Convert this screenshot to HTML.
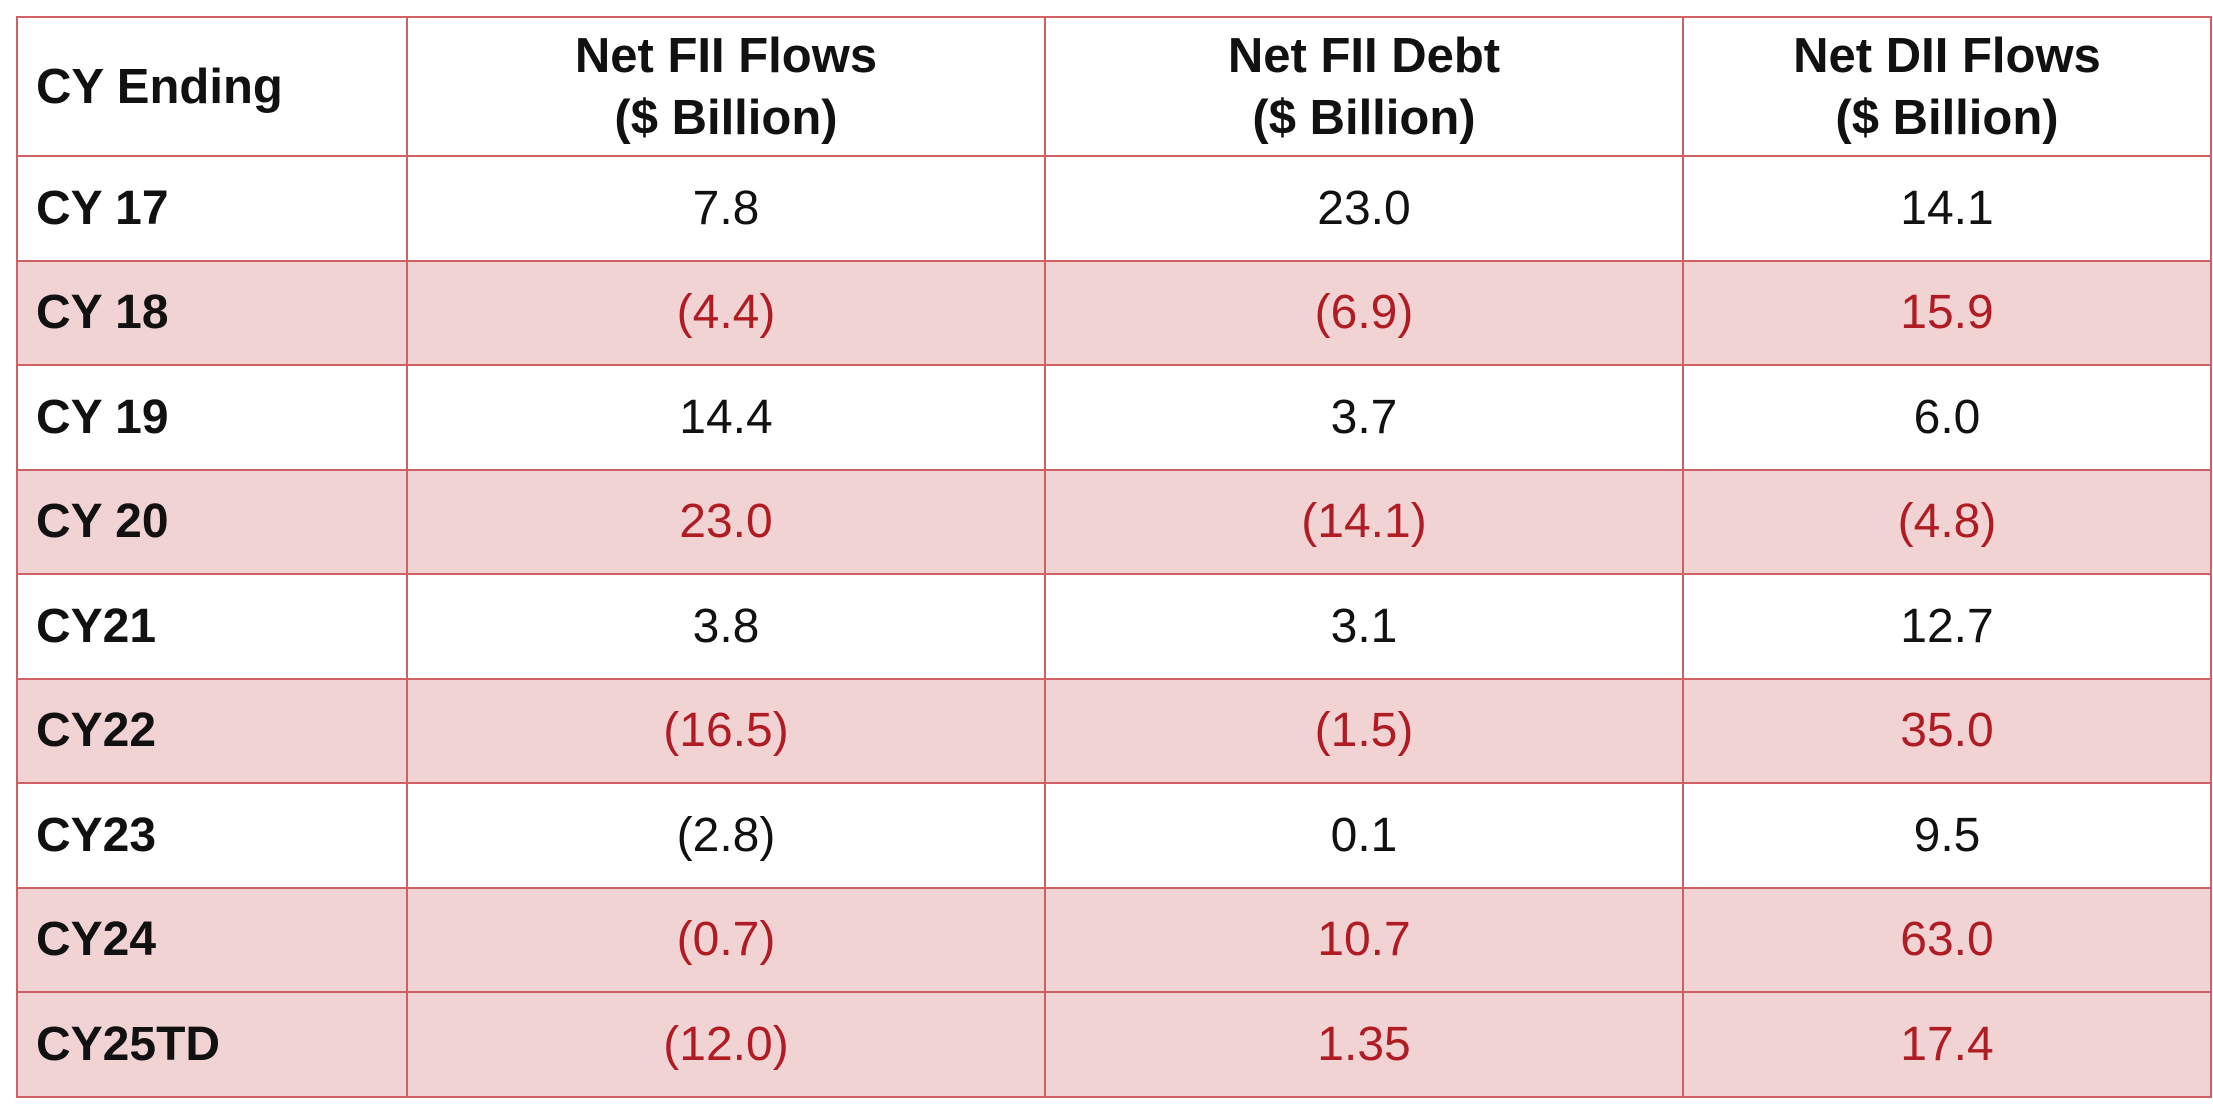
<!DOCTYPE html>
<html><head><meta charset="utf-8"><style>
body{margin:0;width:2213px;height:1110px;background:#fff;overflow:hidden;font-family:"Liberation Sans",Arial,sans-serif}
table{position:absolute;left:16px;top:16px;border-collapse:collapse;table-layout:fixed;width:2194px}
td,th{border:2px solid #cf6064;padding:0;text-align:center;font-size:48px;color:#111}
th{font-weight:bold;height:137px;line-height:62px;font-size:49px}
td{height:102.5px}
td.l,th.l{text-align:left;padding-left:18px;font-weight:bold}
tr.p td{background:#f2d3d4;color:#b01c24}
tr.p td.l{color:#111}
</style></head><body>
<table>
<colgroup><col style="width:390px"><col style="width:638px"><col style="width:638px"><col style="width:528px"></colgroup>
<tr><th class="l">CY Ending</th><th>Net FII Flows<br>($ Billion)</th><th>Net FII Debt<br>($ Billion)</th><th>Net DII Flows<br>($ Billion)</th></tr>
<tr><td class="l">CY 17</td><td>7.8</td><td>23.0</td><td>14.1</td></tr>
<tr class="p"><td class="l">CY 18</td><td>(4.4)</td><td>(6.9)</td><td>15.9</td></tr>
<tr><td class="l">CY 19</td><td>14.4</td><td>3.7</td><td>6.0</td></tr>
<tr class="p"><td class="l">CY 20</td><td>23.0</td><td>(14.1)</td><td>(4.8)</td></tr>
<tr><td class="l">CY21</td><td>3.8</td><td>3.1</td><td>12.7</td></tr>
<tr class="p"><td class="l">CY22</td><td>(16.5)</td><td>(1.5)</td><td>35.0</td></tr>
<tr><td class="l">CY23</td><td>(2.8)</td><td>0.1</td><td>9.5</td></tr>
<tr class="p"><td class="l">CY24</td><td>(0.7)</td><td>10.7</td><td>63.0</td></tr>
<tr class="p"><td class="l">CY25TD</td><td>(12.0)</td><td>1.35</td><td>17.4</td></tr>
</table>
</body></html>
